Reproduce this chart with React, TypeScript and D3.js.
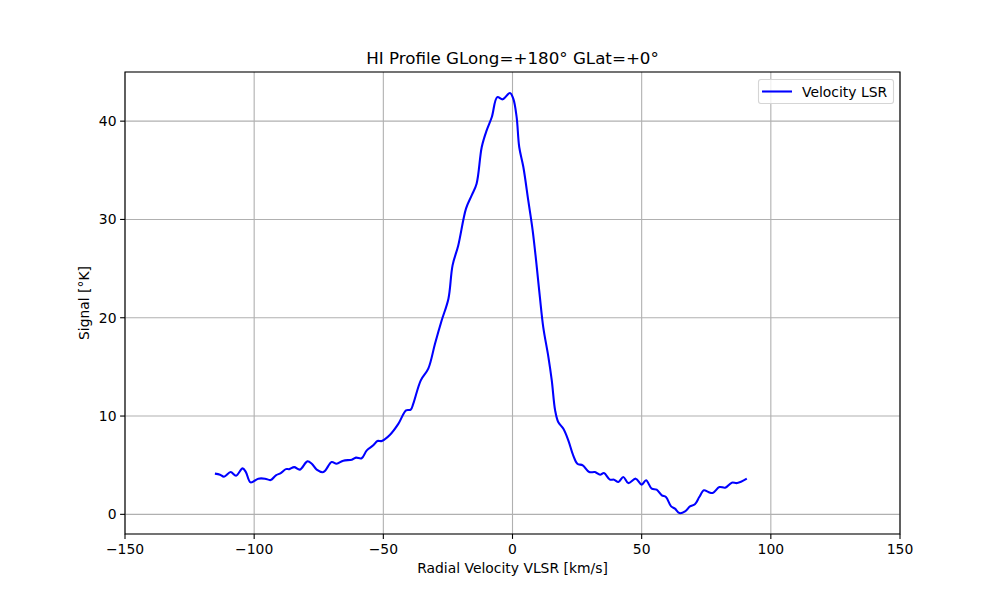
import React from "react";
import * as d3 from "d3";

const velocity: number[] = [
  -115.2, -113.2, -111.7, -109.1, -107.0, -104.5, -103.2, -101.4, -98.4, -95.8,
  -93.6, -91.6, -89.7, -87.7, -86.4, -84.5, -82.3, -79.4, -77.7, -75.8,
  -73.2, -70.0, -68.1, -65.5, -62.2, -60.6, -58.4, -56.4, -53.9, -52.3,
  -50.6, -47.4, -44.2, -41.2, -39.4, -38.4, -35.5, -32.6, -30.0, -27.4,
  -24.8, -23.2, -21.0, -18.0, -15.8, -13.9, -11.9, -10.0, -8.0, -5.9,
  -3.8, -1.0, 0.3, 1.6, 2.6, 4.2, 6.1, 7.8, 9.4, 10.6,
  11.9, 13.9, 15.2, 16.5, 17.7, 19.7, 21.6, 23.5, 25.1, 27.2,
  29.7, 31.9, 33.9, 35.4, 37.7, 39.3, 41.0, 42.9, 44.8, 47.7,
  50.0, 51.7, 53.9, 55.8, 57.8, 59.4, 61.4, 62.9, 64.6, 66.8,
  68.7, 70.6, 72.3, 74.1, 75.8, 77.5, 80.1, 82.3, 84.9, 87.0, 90.7,
];

const signal: number[] = [
  4.14, 4.03, 3.83, 4.3, 3.93, 4.68, 4.3, 3.25, 3.63, 3.63,
  3.49, 3.97, 4.2, 4.6, 4.6, 4.8, 4.55, 5.39, 5.15, 4.55,
  4.3, 5.32, 5.15, 5.46, 5.56, 5.77, 5.7, 6.51, 7.02, 7.46,
  7.46, 8.1, 9.2, 10.58, 10.65, 11.26, 13.63, 14.82, 17.36, 19.74,
  21.94, 25.33, 27.36, 31.1, 32.45, 33.64, 37.37, 39.06, 40.42, 42.45,
  42.22, 42.86, 42.29, 40.42, 37.37, 35.33, 31.94, 28.9, 25.16, 22.1,
  19.05, 16.0, 13.63, 10.58, 9.39, 8.7, 7.53, 6.0, 5.15, 4.98,
  4.3, 4.3, 4.03, 4.2, 3.53, 3.53, 3.29, 3.8, 3.18, 3.63,
  3.02, 3.46, 2.61, 2.51, 1.93, 1.76, 0.81, 0.58, 0.13, 0.3,
  0.81, 1.02, 1.76, 2.44, 2.27, 2.17, 2.78, 2.71, 3.22, 3.18, 3.63,
];

const xTicks: number[] = [-150, -100, -50, 0, 50, 100, 150];
const yTicks: number[] = [0, 10, 20, 30, 40];
const titleText = "HI Profile GLong=+180° GLat=+0°";
const xLabel = "Radial Velocity VLSR [km/s]";
const yLabel = "Signal [°K]";
const legendLabel = "Velocity LSR";

const W = 1000;
const H = 600;
const L = 125;
const R = 900;
const T = 72;
const B = 534;
const FONT = "DejaVu Sans, sans-serif";

const fmt = (v: number) => (v < 0 ? "\u2212" + Math.abs(v) : String(v));

export default function App() {
  const x = d3.scaleLinear().domain([-150, 150]).range([L, R]);
  const y = d3.scaleLinear().domain([-2.0, 45.0]).range([B, T]);
  const pts: [number, number][] = velocity.map((v, i) => [v, signal[i]]);
  const line = d3
    .line<[number, number]>()
    .x((d) => x(d[0]))
    .y((d) => y(d[1]))
    .curve(d3.curveCatmullRom.alpha(0.5));

  return (
    <svg
      width={W}
      height={H}
      style={{ position: "absolute", left: 0, top: 0, background: "#fff" }}
      fontFamily={FONT}
    >
      <rect x={0} y={0} width={W} height={H} fill="#fff" />
      <defs>
        <clipPath id="plotclip">
          <rect x={L} y={T} width={R - L} height={B - T} />
        </clipPath>
      </defs>
      {/* grid */}
      {xTicks.map((t) => (
        <line key={"gx" + t} x1={x(t)} x2={x(t)} y1={T} y2={B} stroke="#b0b0b0" strokeWidth={1.1} />
      ))}
      {yTicks.map((t) => (
        <line key={"gy" + t} x1={L} x2={R} y1={y(t)} y2={y(t)} stroke="#b0b0b0" strokeWidth={1.1} />
      ))}
      {/* data */}
      <path
        d={line(pts) || ""}
        fill="none"
        stroke="#0000ff"
        strokeWidth={2.08}
        strokeLinejoin="round"
        strokeLinecap="butt"
        clipPath="url(#plotclip)"
      />
      {/* spines */}
      <rect x={L} y={T} width={R - L} height={B - T} fill="none" stroke="#000" strokeWidth={1.1} />
      {/* x ticks */}
      {xTicks.map((t) => (
        <g key={"tx" + t}>
          <line x1={x(t)} x2={x(t)} y1={B} y2={B + 4.9} stroke="#000" strokeWidth={1.1} />
          <text x={x(t)} y={B + 20} textAnchor="middle" fontSize={13.9} fill="#000">
            {fmt(t)}
          </text>
        </g>
      ))}
      {/* y ticks */}
      {yTicks.map((t) => (
        <g key={"ty" + t}>
          <line x1={L - 4.9} x2={L} y1={y(t)} y2={y(t)} stroke="#000" strokeWidth={1.1} />
          <text x={L - 8.5} y={y(t) + 5} textAnchor="end" fontSize={13.9} fill="#000">
            {fmt(t)}
          </text>
        </g>
      ))}
      {/* labels */}
      <text x={(L + R) / 2} y={64} textAnchor="middle" fontSize={16.7} fill="#000">
        {titleText}
      </text>
      <text x={(L + R) / 2} y={572.5} textAnchor="middle" fontSize={13.9} fill="#000">
        {xLabel}
      </text>
      <text
        transform={`translate(89, ${(T + B) / 2}) rotate(-90)`}
        textAnchor="middle"
        fontSize={13.9}
        fill="#000"
      >
        {yLabel}
      </text>
      {/* legend */}
      <g>
        <rect x={758.5} y={79.5} width={135} height={24} rx={2.5} fill="#fff" fillOpacity={0.8} stroke="#d5d5d5" strokeWidth={1.1} />
        <line x1={762} x2={792} y1={91.5} y2={91.5} stroke="#0000ff" strokeWidth={2.08} />
        <text x={802} y={96.5} fontSize={13.9} fill="#000">
          {legendLabel}
        </text>
      </g>
    </svg>
  );
}
